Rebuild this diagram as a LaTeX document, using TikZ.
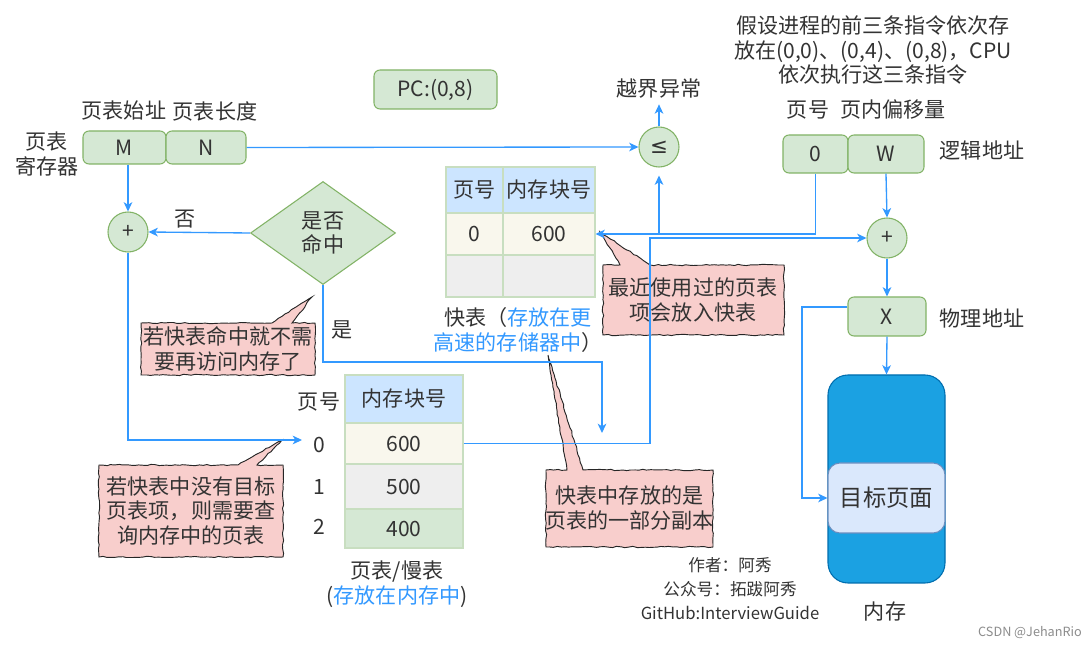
\documentclass[tikz,border=0pt]{standalone}
\usepackage{fontspec}
\setmainfont{Noto Sans CJK SC}
\newfontfamily\djv{DejaVu Sans}
\usetikzlibrary{shapes.geometric,arrows.meta,decorations.pathmorphing,calc}
\definecolor{gfill}{HTML}{D5E8D4}
\definecolor{gline}{HTML}{82B366}
\definecolor{aline}{HTML}{3399FF}
\definecolor{txt}{HTML}{333333}
\definecolor{hdr}{HTML}{CCE5FF}
\definecolor{beige}{HTML}{F9F7ED}
\definecolor{lgray}{HTML}{EEEEEE}
\definecolor{pinkf}{HTML}{F8CECC}
\definecolor{memf}{HTML}{1BA1E2}
\definecolor{meml}{HTML}{006EAF}
\definecolor{tgtf}{HTML}{DAE8FC}
\definecolor{tgtl}{HTML}{6C8EBF}
\definecolor{tbl}{HTML}{C8DEC0}
\begin{document}
\begin{tikzpicture}[x=0.75pt,y=-0.75pt,
 every node/.style={text=txt,font=\fontsize{15.8}{18.5}\selectfont,inner sep=0pt},
 gbox/.style={draw=gline,fill=gfill,rounded corners=4.5pt,line width=0.8pt,minimum height=24.75pt},
 gcirc/.style={circle,draw=gline,fill=gfill,line width=0.8pt,minimum size=30pt},
 conn/.style={draw=aline,line width=1pt,-{Stealth[length=7pt,width=6.5pt,inset=2pt]}},
 cell/.style={draw=tbl,line width=0.8pt,rectangle},
 sketch/.style={draw=black!85,line width=0.7pt,fill=pinkf,decorate,decoration={random steps,segment length=3pt,amplitude=0.5pt}},
 cnote/.style={align=center}
]
\pgfmathsetseed{3}
\fill[white] (0,0) rectangle (1090,648);
\useasboundingbox (0,0) rectangle (1090,648);

% page table register
\node[gbox,minimum width=62.25pt] (M) at (124.5,147.5) {M};
\node[gbox,minimum width=60pt] (N) at (206,147.5) {N};
\node (lbM) at (124,111) {页表始址};
\node (lbN) at (215,111) {页表长度};
\node[cnote] (preg) at (47,154) {页表\\寄存器};
\node[gbox,minimum width=92.25pt,minimum height=29.25pt] (PC) at (435.5,89.5) {PC:(0,8)};

\node[gcirc] (le) at (659,147) {\djv\fontsize{16}{18}\selectfont ≤};
\node (exc) at (659,89) {越界异常};
\node[gcirc] (plusL) at (128,232) {+};
\node[diamond,draw=gline,fill=gfill,line width=0.8pt,minimum width=108.75pt,minimum height=77.25pt,align=center] (dia) at (323,233) {是否\\命中};
\node (no) at (185,219) {否};
\node (yes) at (342,330) {是};

% fast table
\node[cell,fill=hdr,minimum width=42.75pt,minimum height=34.5pt] (fth1) at (474.5,190) {页号};
\node[cell,fill=hdr,minimum width=69pt,minimum height=34.5pt] (fth2) at (549,190) {内存块号};
\node[cell,fill=beige,minimum width=42.75pt,minimum height=31.5pt] (fta1) at (474.5,234) {0};
\node[cell,fill=beige,minimum width=69pt,minimum height=31.5pt] (fta2) at (549,234) {600};
\node[cell,fill=lgray,minimum width=42.75pt,minimum height=31.5pt] (ftb1) at (474.5,276) {};
\node[cell,fill=lgray,minimum width=69pt,minimum height=31.5pt] (ftb2) at (549,276) {};
\node[cnote] (ftcap) at (518,330) {快表（\textcolor{aline}{存放在更}\\\textcolor{aline}{高速的存储器中}）};

% page table
\node[cell,fill=hdr,minimum width=88.5pt,minimum height=36pt] (pth) at (404,399) {内存块号};
\node[cell,fill=beige,minimum width=88.5pt,minimum height=30.75pt] (ptv1) at (404,443.5) {600};
\node[cell,fill=lgray,minimum width=88.5pt,minimum height=33.75pt] (ptv2) at (404,486.5) {500};
\node[cell,fill=gfill,minimum width=88.5pt,minimum height=29.25pt] (ptv3) at (404,528.5) {400};
\node (ptl0) at (319,402) {页号};
\node (ptr0) at (319,445) {0};
\node (ptr1) at (319,487) {1};
\node (ptr2) at (319,527) {2};
\node[cnote] (ptcap) at (397,584) {页表/慢表\\(\textcolor{aline}{存放在内存中})};

% logical address
\node[cnote] (tnote) at (873,50) {假设进程的前三条指令依次存\\放在(0,0)、(0,4)、(0,8)，CPU\\依次执行这三条指令};
\node (lbpg) at (808,110) {页号};
\node (lboff) at (893,110) {页内偏移量};
\node[gbox,minimum width=48.75pt,minimum height=28.5pt] (z0) at (815.5,154) {0};
\node[gbox,minimum width=57pt,minimum height=28.5pt] (W) at (886,154) {W};
\node (lbla) at (982,150) {逻辑地址};
\node[gcirc] (plusR) at (887,238) {+};
\node[gbox,minimum width=58.5pt,minimum height=29.25pt] (X) at (887,316.5) {X};
\node (lbpa) at (982,318) {物理地址};

% memory
\node[draw=meml,fill=memf,rounded corners=15pt,minimum width=87.75pt,minimum height=156pt,line width=0.8pt] (mem) at (886.5,479) {};
\node[draw=tgtl,fill=tgtf,rounded corners=9pt,minimum width=87.75pt,minimum height=52.5pt,line width=0.8pt,font=\fontsize{17.5}{20}\selectfont] (tgt) at (886.5,498) {目标页面};
\node (memlbl) at (885,612) {内存};

% callouts
\path[sketch] (603,265) -- (620,265) -- (600,232) -- (650,265) -- (784,265) -- (784,335) -- (603,335) -- cycle;
\node[cnote] (c1) at (693,300) {最近使用过的页表\\项会放入快表};
\path[sketch] (141,323) -- (272,323) -- (312,297) -- (292,323) -- (315,323) -- (315,375) -- (141,375) -- cycle;
\node[cnote] (c2) at (228,349) {若快表命中就不需\\要再访问内存了};
\path[sketch] (99,465) -- (238,465) -- (282,440) -- (257,465) -- (283,465) -- (283,557) -- (99,557) -- cycle;
\node[cnote] (c3) at (191,511) {若快表中没有目标\\页表项，则需要查\\询内存中的页表};
\path[sketch] (546,470) -- (567,470) -- (548,355) -- (583,470) -- (713,470) -- (713,547) -- (546,547) -- cycle;
\node[cnote] (c4) at (629.5,508) {快表中存放的是\\页表的一部分副本};

% author
\node[cnote,font=\fontsize{12.5}{18}\selectfont] (auth) at (730,589) {作者：阿秀\\公众号：拓跋阿秀\\GitHub:InterviewGuide};
\node[text=black!45,font=\fontsize{9.5}{11}\selectfont] (csdn) at (1030,633) {CSDN @JehanRio};

% connectors
\draw[conn] (N.east) -- (le.west);
\draw[conn] (plusL.north |- M.south) -- (plusL.north);
\draw[conn] (dia.west) -- (plusL.east);
\coordinate (in0) at (302,440);
\draw[conn] (plusL.south) |- (in0);
\coordinate (yt) at (602,362);
\coordinate (ye) at (602,433);
\draw[conn] (dia.south) |- (yt) -- (ye);
\coordinate (mu) at (650,238);
\draw[conn] (ptv1.east) -| (mu) -- (plusR.west);
\draw[conn] (z0.south) |- (fta2.east);
\draw[conn,shorten >=6pt] (le.south |- fta2.east) -- (le.south);
\draw[conn,shorten >=4pt] (le.north) -- (exc.south);
\draw[conn] (W.south) -- (plusR.north);
\draw[conn] (plusR.south) -- (X.north);
\coordinate (xl) at (802,307);
\draw[conn] (X.west |- xl) -- (xl) |- (tgt.west);
\draw[conn] (X.south) -- (mem.north);
\end{tikzpicture}
\end{document}
